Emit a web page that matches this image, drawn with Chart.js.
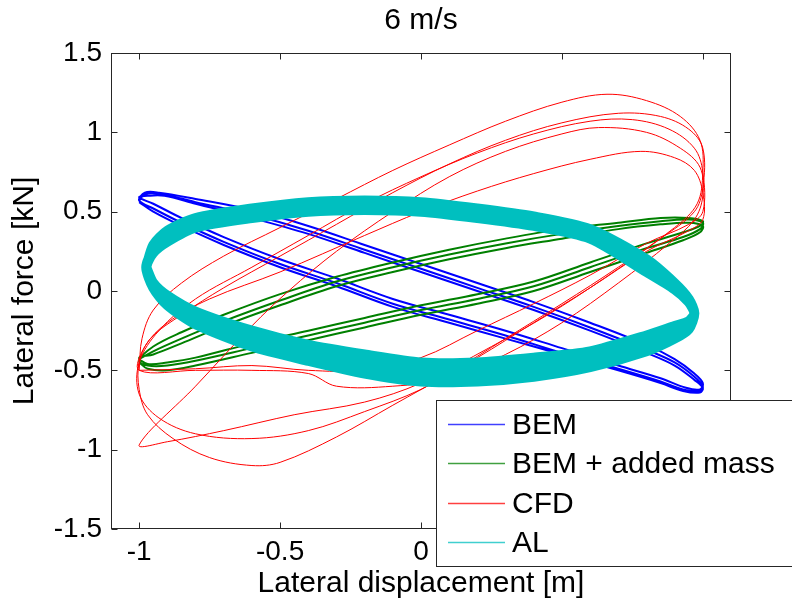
<!DOCTYPE html>
<html>
<head>
<meta charset="utf-8">
<script src="https://cdn.jsdelivr.net/npm/chart.js@4"></script>
<style>
  html, body { margin: 0; padding: 0; background: #fff; }
</style>
</head>
<body>
<canvas id="hysteresis" width="792" height="605"></canvas>
<script>
// tick values and labels
const xTicks = [-1, -0.5, 0, 0.5, 1];
const xTickLabels = ['-1', '-0.5', '0', '0.5', '1'];
const yTicks = [-1.5, -1, -0.5, 0, 0.5, 1, 1.5];
const yTickLabels = ['-1.5', '-1', '-0.5', '0', '0.5', '1', '1.5'];

const seriesNames = ['BEM', 'BEM + added mass', 'CFD', 'AL'];
const seriesColors = ['#0000ff', '#008000', '#ff0000', '#00bfbf'];

// [displacement m, force kN]
const bemPoints = [
  [-1.00,0.57],[-0.98,0.61],[-0.92,0.61],[-0.80,0.56],[-0.60,0.48],[-0.40,0.38],[-0.20,0.26],[0.00,0.14],
  [0.20,0.02],[0.40,-0.10],[0.60,-0.23],[0.80,-0.37],[0.90,-0.45],[0.97,-0.54],[1.00,-0.60],
  [0.99,-0.63],[0.93,-0.62],[0.85,-0.57],[0.70,-0.49],[0.50,-0.39],[0.30,-0.28],[0.10,-0.18],[-0.10,-0.08],
  [-0.30,0.05],[-0.50,0.17],[-0.70,0.31],[-0.85,0.43],[-0.95,0.52],[-1.00,0.57],
  [-0.98,0.62],[-0.93,0.62],[-0.80,0.58],[-0.60,0.51],[-0.40,0.41],[-0.20,0.29],[0.00,0.17],
  [0.20,0.05],[0.40,-0.07],[0.60,-0.20],[0.80,-0.34],[0.90,-0.43],[0.97,-0.52],[1.00,-0.58],
  [0.99,-0.62],[0.94,-0.61],[0.85,-0.55],[0.70,-0.47],[0.50,-0.36],[0.30,-0.25],[0.10,-0.15],[-0.10,-0.05],
  [-0.30,0.08],[-0.50,0.20],[-0.70,0.34],[-0.85,0.46],[-0.95,0.55],[-1.00,0.59],
  [-0.97,0.60],[-0.91,0.60],[-0.80,0.55],[-0.60,0.46],[-0.40,0.36],[-0.20,0.24],[0.00,0.12],
  [0.20,0.00],[0.40,-0.12],[0.60,-0.25],[0.80,-0.39],[0.90,-0.47],[0.97,-0.56],[1.00,-0.61],
  [0.99,-0.64],[0.93,-0.63],[0.85,-0.58],[0.70,-0.50],[0.50,-0.40],[0.30,-0.30],[0.10,-0.20],[-0.10,-0.10],
  [-0.30,0.03],[-0.50,0.15],[-0.70,0.29],[-0.85,0.41],[-0.95,0.50],[-1.00,0.56]
];

const addedMassPoints = [
  [-1.00,-0.43],[-0.95,-0.38],[-0.85,-0.30],[-0.70,-0.19],[-0.50,-0.06],[-0.30,0.06],[-0.10,0.15],[0.10,0.23],
  [0.30,0.30],[0.50,0.36],[0.70,0.41],[0.85,0.44],[0.95,0.45],[1.00,0.43],
  [0.99,0.39],[0.93,0.34],[0.80,0.27],[0.60,0.15],[0.40,0.03],[0.20,-0.05],[0.00,-0.12],[-0.20,-0.20],
  [-0.40,-0.28],[-0.60,-0.36],[-0.80,-0.44],[-0.90,-0.47],[-0.97,-0.47],[-1.00,-0.44],
  [-0.95,-0.35],[-0.85,-0.26],[-0.70,-0.15],[-0.50,-0.02],[-0.30,0.09],[-0.10,0.18],[0.10,0.26],
  [0.30,0.33],[0.50,0.39],[0.70,0.43],[0.85,0.46],[0.95,0.46],[1.00,0.44],
  [0.99,0.41],[0.93,0.37],[0.80,0.30],[0.60,0.18],[0.40,0.06],[0.20,-0.02],[0.00,-0.09],[-0.20,-0.17],
  [-0.40,-0.25],[-0.60,-0.33],[-0.80,-0.42],[-0.90,-0.45],[-0.97,-0.46],[-1.00,-0.42],
  [-0.95,-0.40],[-0.85,-0.33],[-0.70,-0.22],[-0.50,-0.09],[-0.30,0.03],[-0.10,0.12],[0.10,0.20],
  [0.30,0.27],[0.50,0.33],[0.70,0.39],[0.85,0.42],[0.95,0.43],[1.00,0.41],
  [0.99,0.37],[0.93,0.32],[0.80,0.24],[0.60,0.12],[0.40,0.00],[0.20,-0.08],[0.00,-0.15],[-0.20,-0.23],
  [-0.40,-0.31],[-0.60,-0.39],[-0.80,-0.47],[-0.90,-0.50],[-0.97,-0.49],[-1.00,-0.45]
];

const cfdPoints = [
  [-1.00,-0.50],[-0.99,-0.30],[-0.95,-0.12],[-0.85,0.05],[-0.70,0.22],[-0.50,0.40],[-0.30,0.58],[-0.10,0.76],
  [0.10,0.92],[0.30,1.07],[0.50,1.19],[0.66,1.24],[0.80,1.20],[0.92,1.10],[0.99,0.95],[1.00,0.75],
  [0.98,0.55],[0.90,0.40],[0.70,0.15],[0.50,-0.08],[0.30,-0.30],[0.10,-0.52],[-0.10,-0.72],[-0.30,-0.92],
  [-0.50,-1.08],[-0.60,-1.10],[-0.75,-1.05],[-0.88,-0.93],[-0.97,-0.78],[-1.00,-0.62],
  [-1.00,-0.45],[-0.96,-0.30],[-0.85,-0.15],[-0.70,0.02],[-0.50,0.22],[-0.30,0.42],[-0.10,0.62],
  [0.10,0.80],[0.30,0.95],[0.50,1.06],[0.70,1.12],[0.85,1.10],[0.95,1.02],[1.00,0.90],[1.00,0.65],
  [0.97,0.50],[0.85,0.33],[0.65,0.08],[0.45,-0.15],[0.25,-0.35],[0.00,-0.58],[-0.20,-0.70],[-0.45,-0.78],
  [-0.70,-0.88],[-0.90,-0.95],[-1.00,-0.97],
  [-0.80,-0.60],[-0.60,-0.22],[-0.47,0.00],[-0.30,0.25],[-0.10,0.50],[0.10,0.72],[0.30,0.88],[0.50,0.99],
  [0.63,1.03],[0.80,1.00],[0.92,0.90],[0.99,0.78],[1.00,0.60],[0.97,0.45],[0.88,0.30],[0.70,0.05],
  [0.50,-0.20],[0.30,-0.40],[0.10,-0.55],[-0.10,-0.60],[-0.30,-0.60],[-0.40,-0.52],[-0.60,-0.50],
  [-0.80,-0.50],[-1.00,-0.50],
  [-0.98,-0.35],[-0.90,-0.20],[-0.75,-0.05],[-0.50,0.12],[-0.20,0.35],[0.00,0.50],[0.20,0.63],[0.40,0.74],
  [0.60,0.83],[0.78,0.88],[0.90,0.84],[0.97,0.76],[1.00,0.62],[1.00,0.45],[0.95,0.38],[0.80,0.25],
  [0.60,0.02],[0.40,-0.20],[0.20,-0.42],[0.00,-0.62],[-0.20,-0.76],[-0.40,-0.88],[-0.60,-0.93],[-0.80,-0.90],
  [-0.93,-0.80],[-1.00,-0.65],[-1.00,-0.45],
  [-0.93,-0.25],[-0.80,-0.05],[-0.60,0.15],[-0.40,0.35],[-0.20,0.55],[0.00,0.72],[0.20,0.87],[0.40,0.99],
  [0.60,1.07],[0.75,1.08],[0.88,1.02],[0.97,0.90],[1.00,0.75],[1.00,0.50],[0.95,0.42],[0.80,0.30],
  [0.60,0.10],[0.40,-0.08],[0.20,-0.25],[0.00,-0.42],[-0.20,-0.50],[-0.40,-0.50],[-0.60,-0.47],
  [-0.80,-0.49],[-1.00,-0.50]
];

const alPoints = [
  [-0.975,0.15],[-0.95,0.29],[-0.90,0.38],[-0.80,0.46],[-0.60,0.52],[-0.40,0.56],[-0.20,0.57],[0.00,0.56],
  [0.20,0.52],[0.40,0.47],[0.60,0.39],[0.80,0.20],[0.90,0.05],[0.95,-0.05],[0.97,-0.14],
  [0.95,-0.24],[0.90,-0.30],[0.80,-0.38],[0.60,-0.48],[0.40,-0.54],[0.20,-0.57],[0.00,-0.57],[-0.20,-0.52],
  [-0.40,-0.44],[-0.60,-0.35],[-0.80,-0.21],[-0.90,-0.09],[-0.95,0.02],[-0.975,0.15],
  [-0.95,0.26],[-0.90,0.34],[-0.80,0.43],[-0.60,0.49],[-0.40,0.53],[-0.20,0.54],[0.00,0.53],
  [0.20,0.49],[0.40,0.44],[0.60,0.36],[0.80,0.16],[0.90,0.03],[0.95,-0.06],[0.97,-0.14],
  [0.95,-0.21],[0.90,-0.26],[0.80,-0.33],[0.60,-0.43],[0.40,-0.48],[0.20,-0.51],[0.00,-0.51],[-0.20,-0.46],
  [-0.40,-0.39],[-0.60,-0.30],[-0.80,-0.17],[-0.90,-0.06],[-0.95,0.03],[-0.975,0.15],
  [-0.95,0.24],[-0.90,0.31],[-0.80,0.40],[-0.60,0.46],[-0.40,0.50],[-0.20,0.51],[0.00,0.50],
  [0.20,0.46],[0.40,0.41],[0.60,0.33],[0.80,0.12],[0.90,0.01],[0.95,-0.07],[0.97,-0.14],
  [0.95,-0.19],[0.90,-0.22],[0.80,-0.28],[0.60,-0.38],[0.40,-0.42],[0.20,-0.45],[0.00,-0.45],[-0.20,-0.40],
  [-0.40,-0.34],[-0.60,-0.25],[-0.80,-0.13],[-0.90,-0.03],[-0.95,0.05],[-0.975,0.15]
];

const fuente = '"Liberation Sans", Arial, Helvetica, sans-serif';
Chart.defaults.font.family = fuente;
Chart.defaults.color = '#000';

const aXY = pts => pts.map(p => ({x: p[0], y: p[1]}));

// box with inward ticks on all four sides
const marcoEjes = {
  id: 'marcoEjes',
  afterDatasetsDraw(chart) {
    const {ctx, chartArea: a, scales: {x, y}} = chart;
    const l = Math.round(a.left) + 0.5, r = Math.round(a.right) - 0.5;
    const t = Math.round(a.top) + 0.5, b = Math.round(a.bottom) - 0.5;
    ctx.save();
    ctx.strokeStyle = '#262626';
    ctx.lineWidth = 1;
    ctx.strokeRect(l, t, r - l, b - t);
    ctx.beginPath();
    xTicks.forEach(v => {
      const px = Math.round(x.getPixelForValue(v)) + 0.5;
      ctx.moveTo(px, b); ctx.lineTo(px, b - 6);
      ctx.moveTo(px, t); ctx.lineTo(px, t + 6);
    });
    yTicks.forEach(v => {
      const py = Math.round(y.getPixelForValue(v)) + 0.5;
      ctx.moveTo(l, py); ctx.lineTo(l + 6, py);
      ctx.moveTo(r, py); ctx.lineTo(r - 6, py);
    });
    ctx.stroke();
    ctx.restore();
  }
};

// legend box sits over the lower right corner of the axes
const leyenda = {
  id: 'leyenda',
  afterDraw(chart) {
    const ctx = chart.ctx;
    ctx.save();
    ctx.fillStyle = '#fff';
    ctx.fillRect(436.5, 400.5, 400, 166);
    ctx.strokeStyle = '#262626';
    ctx.lineWidth = 1;
    ctx.strokeRect(436.5, 400.5, 400, 166);
    ctx.font = '30px ' + fuente;
    ctx.textBaseline = 'middle';
    ctx.textAlign = 'left';
    seriesNames.forEach((nombre, i) => {
      const yy = Math.round(424 + i * 39.4) + 0.5;
      ctx.globalAlpha = 0.75;
      ctx.strokeStyle = seriesColors[i];
      ctx.lineWidth = 1.5;
      ctx.beginPath();
      ctx.moveTo(448, yy);
      ctx.lineTo(505, yy);
      ctx.stroke();
      ctx.globalAlpha = 1;
      ctx.fillStyle = '#000';
      ctx.fillText(nombre, 512, yy + 1);
    });
    ctx.restore();
  }
};

const serie = (pts, i, ancho, orden, tension) => ({
  label: seriesNames[i],
  data: aXY(pts),
  showLine: true,
  borderColor: seriesColors[i],
  backgroundColor: seriesColors[i],
  borderWidth: ancho,
  pointRadius: 0,
  tension: tension,
  fill: false,
  order: orden
});

new Chart(document.getElementById('hysteresis'), {
  type: 'scatter',
  data: {
    datasets: [
      serie(bemPoints, 0, 2, 3, 0.35),
      serie(addedMassPoints, 1, 2, 2, 0.35),
      serie(cfdPoints, 2, 1, 1, 0.35),
      serie(alPoints, 3, 10, 0, 0.25)
    ]
  },
  options: {
    responsive: false,
    devicePixelRatio: 1,
    animation: false,
    events: [],
    layout: { padding: { left: 0, right: 61, top: 0, bottom: 0 } },
    scales: {
      x: {
        type: 'linear',
        min: -1.1,
        max: 1.1,
        afterBuildTicks: s => { s.ticks = xTicks.map(v => ({value: v})); },
        afterFit: s => { s.height = 76; },
        ticks: {
          includeBounds: false,
          padding: 6,
          maxRotation: 0,
          font: { size: 28 },
          callback: (v, i) => xTickLabels[i]
        },
        grid: { display: false, drawTicks: false },
        border: { display: false },
        title: {
          display: true,
          text: 'Lateral displacement [m]',
          font: { size: 30 },
          padding: { top: 0, bottom: 3 }
        }
      },
      y: {
        type: 'linear',
        min: -1.5,
        max: 1.5,
        afterBuildTicks: s => { s.ticks = yTicks.map(v => ({value: v})); },
        afterFit: s => { s.width = 111; },
        ticks: {
          includeBounds: false,
          padding: 9,
          font: { size: 28 },
          callback: (v, i) => yTickLabels[i]
        },
        grid: { display: false, drawTicks: false },
        border: { display: false },
        title: {
          display: true,
          text: 'Lateral force [kN]',
          font: { size: 30 },
          padding: { top: 7, bottom: 0 }
        }
      }
    },
    plugins: {
      legend: { display: false },
      tooltip: { enabled: false },
      title: {
        display: true,
        text: '6 m/s',
        fullSize: false,
        font: { size: 30, weight: 'normal' },
        padding: { top: 3, bottom: 14 }
      }
    }
  },
  plugins: [marcoEjes, leyenda]
});
</script>
</body>
</html>
